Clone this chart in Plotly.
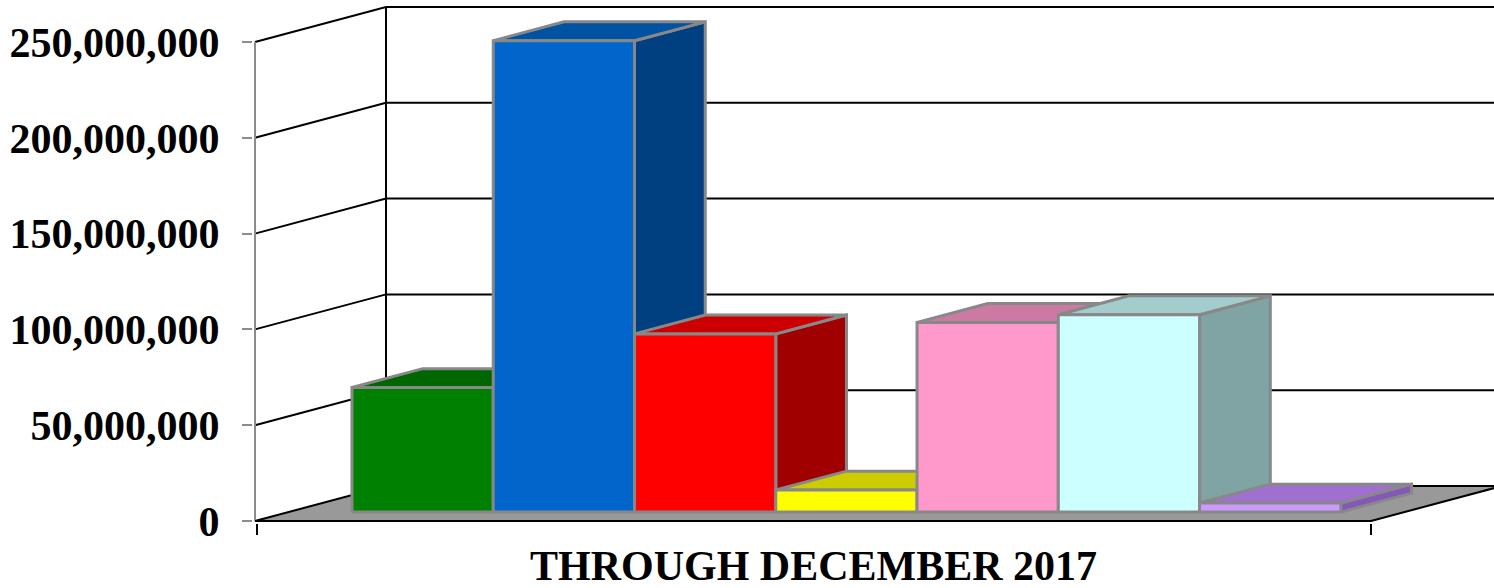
import plotly.graph_objects as go

# ---- data ----
category = "THROUGH DECEMBER 2017"
series_values = [65.0e6, 246.0e6, 93.0e6, 11.5e6, 99.0e6, 103.0e6, 4.7e6]
front_colors = ["#008000", "#0066CC", "#FF0000", "#FFFF00", "#FF99CC", "#CCFFFF", "#CC99FF"]
top_colors = ["#006600", "#0052A3", "#CC0000", "#CCCC00", "#CC7AA3", "#A3CCCC", "#9F70D0"]
side_colors = ["#004F00", "#003F80", "#A00000", "#A0A000", "#A06080", "#80A3A3", "#8458B8"]
y_tick_values = [0, 50e6, 100e6, 150e6, 200e6, 250e6]
y_tick_labels = ["0", "50,000,000", "100,000,000", "150,000,000", "200,000,000", "250,000,000"]

# ---- 3-D look: oblique projection of the depth axis ----
W, H = 1494, 588
PX_PER_X = 1116.0            # pixels per category unit on the front plane
PX_PER_M = 479.0 / 250.0     # pixels per million on the value axis
DEPTH_X = 131.0 / PX_PER_X               # full-depth shift, x units
DEPTH_Y = 35.0 / PX_PER_M * 1e6          # full-depth shift, value units
BAR_D0, BAR_D1 = 0.255, 0.795            # bar depth span (fraction of wall depth)
GAP = 0.9                                # gap width relative to one bar

margin_l, margin_b = 253, 65
x_min = -(255 - margin_l) / PX_PER_X
x_max = x_min + (W - margin_l) / PX_PER_X
plot_h = H - margin_b
y_min = -(plot_h - 521) / PX_PER_M * 1e6
y_max = y_min + plot_h / PX_PER_M * 1e6


def proj(u, v, d):
    return u + d * DEPTH_X, v + d * DEPTH_Y


def poly(points, fill, line_color="#888888", line_width=3):
    xs, ys = zip(*[proj(*p) for p in points])
    xs = list(xs) + [xs[0]]
    ys = list(ys) + [ys[0]]
    return go.Scatter(x=xs, y=ys, mode="lines", fill="toself", fillcolor=fill,
                      line=dict(color=line_color, width=line_width),
                      hoverinfo="skip", showlegend=False)


def path(points, color, width=2):
    xs, ys = zip(*[proj(*p) for p in points])
    return go.Scatter(x=list(xs), y=list(ys), mode="lines",
                      line=dict(color=color, width=width),
                      hoverinfo="skip", showlegend=False)


fig = go.Figure()
top_val = y_tick_values[-1]
far_u = 1.0 + DEPTH_X

# floor
fig.add_trace(poly([(0, 0, 0), (1, 0, 0), (1, 0, 1), (0, 0, 1)], "#999999",
                   line_color="#999999", line_width=1))

# gridlines along the side wall and back wall
for t in y_tick_values:
    p0 = proj(0, t, 0)
    p1 = proj(0, t, 1)
    fig.add_trace(go.Scatter(x=[p0[0], p1[0], far_u + DEPTH_X], y=[p0[1], p1[1], p1[1]],
                             mode="lines", line=dict(color="#000000", width=2),
                             hoverinfo="skip", showlegend=False))

# back wall corner and front value axis
fig.add_trace(path([(0, 0, 1), (0, top_val, 1)], "#000000"))
fig.add_trace(path([(0, 0, 0), (0, top_val, 0)], "#8C8C8C"))

# bars, drawn left to right so nearer faces cover the ones behind
n = len(series_values)
bar_w = 1.0 / (n + GAP)
start = GAP * bar_w / 2
for i, v in enumerate(series_values):
    u0 = start + i * bar_w
    u1 = u0 + bar_w
    fig.add_trace(poly([(u1, 0, BAR_D0), (u1, 0, BAR_D1), (u1, v, BAR_D1), (u1, v, BAR_D0)],
                       side_colors[i]))
    fig.add_trace(poly([(u0, v, BAR_D0), (u1, v, BAR_D0), (u1, v, BAR_D1), (u0, v, BAR_D1)],
                       top_colors[i]))
    fig.add_trace(poly([(u0, 0, BAR_D0), (u1, 0, BAR_D0), (u1, v, BAR_D0), (u0, v, BAR_D0)],
                       front_colors[i]))

# floor front and right edges
fig.add_trace(path([(0, 0, 0), (1, 0, 0), (1, 0, 1)], "#000000"))

fig.add_annotation(x=0.5, xref="x", y=0, yref="paper", yanchor="top", yshift=-18,
                   text=category, showarrow=False,
                   font=dict(family="Liberation Serif", size=42, color="#000000", weight="bold"))

fig.update_layout(
    width=W, height=H,
    margin=dict(l=margin_l, r=0, t=0, b=margin_b, pad=0),
    paper_bgcolor="#FFFFFF", plot_bgcolor="#FFFFFF",
    showlegend=False,
    xaxis=dict(range=[x_min, x_max], tickmode="array", tickvals=[0.002, 1.0],
               ticks="outside", ticklen=11, tickwidth=2, tickcolor="#000000",
               showticklabels=False, showgrid=False, zeroline=False, showline=False,
               fixedrange=True),
    yaxis=dict(range=[y_min, y_max], tickmode="array", tickvals=y_tick_values,
               ticktext=y_tick_labels, ticks="outside", ticklen=10, tickwidth=2,
               tickcolor="#8C8C8C", ticklabelstandoff=14,
               tickfont=dict(family="Liberation Serif", size=42, color="#000000", weight="bold"),
               showgrid=False, zeroline=False, showline=False, fixedrange=True),
)

fig.write_html("out.html")
